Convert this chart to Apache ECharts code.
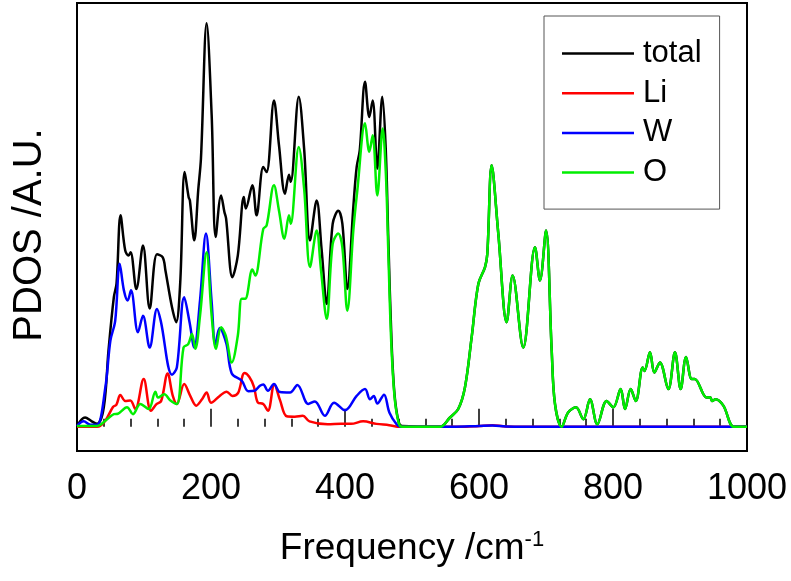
<!DOCTYPE html>
<html>
<head>
<meta charset="utf-8">
<script src="https://cdn.jsdelivr.net/npm/echarts@6/dist/echarts.min.js"></script>
<style>
  html, body { margin: 0; padding: 0; background: #fff; }
  #chart { width: 791px; height: 581px; }
</style>
</head>
<body>
<div id="chart"></div>
<script>
// Phonon partial density of states, [frequency (cm-1), intensity (a.u.)]
const seriesNames = ['total', 'Li', 'W', 'O'];
const seriesColors = ['#000000', '#ff0000', '#0000ff', '#00ee00'];
const xTicks = [0, 200, 400, 600, 800, 1000];

const total = [
  [0, 0.2], [12, 2.2], [22, 1.3], [30, 0.7], [40, 4.6], [47, 18], [55, 30.6], [59, 33.8],
  [65, 49.9], [72, 41.6], [77, 40.4], [80, 41.2], [88.6, 32.5], [98.5, 42.8], [108.5, 27.9],
  [119.4, 40.7], [128, 40], [132, 36.9], [141.8, 28.2], [148, 24.7], [154, 33.8], [160.7, 60.1],
  [166.6, 54.2], [168.5, 53.4], [175, 44], [181, 56], [185, 63.3], [193.5, 95.2], [201, 73.5],
  [207, 44.8], [215, 54.6], [220, 50.7], [222.5, 49.2], [232, 35.3], [240, 40.4], [249, 54.2],
  [252, 51.5], [261.7, 57], [268, 49.9], [278, 61.3], [283, 60.1], [294, 77], [301.5, 66.4],
  [310.4, 55], [316.4, 59.5], [319, 57.8], [331, 77.9], [339, 65.6], [347.8, 44], [357.7, 53.4],
  [365, 42], [372.7, 29], [381.6, 47.9], [390, 51], [396, 48], [403.5, 32.5], [412.4, 51.8],
  [417.4, 61.3], [422, 65.2], [429.9, 81.4], [436.3, 73.1], [441.3, 77], [448.2, 60.9],
  [455.7, 77.9], [460.7, 66], [464.7, 44], [469.5, 20], [474, 7.5], [480, 1.2], [485, 0.2],
  [541.8, 0], [556.7, 2.2], [569, 4.2], [579, 9.3], [589, 21.1], [599, 33.7], [609, 37.7],
  [612.4, 40.8], [618.9, 61.7], [628.8, 45.6], [641.3, 24.7], [650.2, 35.7], [666, 18.7],
  [683.6, 42.4], [691, 34.5], [700, 46.3], [708.5, 18], [713.4, 5.4], [723.4, 0], [733, 3.4],
  [744.8, 4.6], [755.7, 1.8], [765.7, 6.5], [776.6, 0.6], [790.5, 6.1], [800.5, 4.6],
  [811.4, 8.9], [818, 4.2], [826.4, 8.9], [834, 6.1], [844.3, 14], [847, 13.2], [855.2, 17.6],
  [861.7, 12.8], [870, 15.2], [882.6, 8.9], [892.5, 17.6], [901, 8.9], [909, 16.5],
  [917.4, 11.3], [921.9, 11.3], [939.8, 6.9], [945, 7], [948, 6.1], [953, 6.5], [964.7, 5],
  [980.6, 0], [1000, 0]
];

const li = [
  [0, 0], [30, 0], [42, 1.4], [53.7, 4.7], [58.7, 5.2], [64.7, 7.5], [72, 6.1], [79.6, 6.2],
  [87, 4.2], [99.5, 11.3], [110.4, 3.8], [119, 5.4], [125.6, 6.1], [135.3, 12.6], [143, 7.3],
  [149, 5.4], [160, 10.1], [169, 7.3], [178, 5], [186.6, 6.5], [193.5, 8.1], [200, 5.7],
  [213, 7.3], [223.4, 8.3], [232, 7.3], [240.5, 8], [250, 12.7], [257, 11.8], [264, 9.5],
  [270, 5.7], [278, 5.4], [285, 3.8], [294.5, 10], [303, 6.3], [313, 2.5], [325, 2.4],
  [337, 2.6], [347, 1.3], [374, 0.6], [394, 0.7], [409, 0.7], [427, 1.3], [447, 0.7],
  [466, 0.4], [482, 0], [580, 0], [600, 0.2], [620, 0.4], [640, 0.1], [700, 0], [1000, 0]
];

const w = [
  [0, 0.2], [10, 1.3], [20, 0.5], [30, 0.5], [42.3, 9.3], [49.8, 20.3], [57, 25], [63.7, 38.5],
  [70, 32.2], [75.6, 29.8], [80.6, 32.2], [91, 22.3], [98.5, 26.2], [108.5, 18.7], [119.4, 27.8],
  [125, 25], [141.8, 12.3], [149, 14], [160, 30.6], [168, 24.7], [175, 18.7], [183.6, 29.8],
  [192.5, 45.6], [201, 29.4], [206.5, 19.5], [213, 23.3], [223, 19.6], [231, 12.6],
  [245.8, 10.9], [255.7, 8.4], [265, 8.5], [273, 9.7], [278, 10], [285, 8.5], [294, 10.1],
  [303, 8.2], [318, 8.1], [328.9, 9.9], [345.3, 5.4], [355, 6], [370, 2.6], [383.6, 5.7],
  [400, 3.9], [417.4, 7.3], [429.9, 8.9], [437.3, 6.5], [443, 7.3], [448.2, 5.5], [458.2, 7.6],
  [466.2, 3.4], [477, 0.6], [483, 0], [560, 0], [600, 0.2], [620, 0.3], [640, 0.1], [700, 0],
  [1000, 0]
];

const o = [
  [0, 0.2], [30, 0.2], [45, 1.8], [55, 3], [61, 3.1], [74.6, 4.6], [83.6, 3], [94.5, 5.4],
  [107, 4.2], [117, 8.3], [121, 6.9], [130.3, 7.7], [139, 6.3], [149, 5.4], [159, 18.7],
  [166, 19.5], [171.6, 21.9], [176.6, 18.4], [183.6, 26.2], [193.5, 41.2], [201, 26.2],
  [207.5, 18.4], [215, 23.5], [222, 21.5], [231, 15.2], [240, 21.5], [245.8, 30.2], [251, 30.2],
  [261.7, 37.1], [266, 35.7], [278, 46.7], [283, 47.5], [294, 57], [301.5, 51], [309.5, 44.4],
  [316.4, 49.9], [319, 47.9], [331, 66], [339, 56.2], [347.8, 37.7], [357.7, 46.3], [364, 37.3],
  [372.7, 25.5], [381.6, 43.2], [390, 45.6], [396, 42.4], [403.5, 27.4], [412.4, 46.3],
  [418.4, 55.8], [429.9, 71.6], [436.3, 64.9], [441.3, 68.8], [448.2, 54.6], [456.2, 70.4],
  [461, 59.7], [464.5, 42], [469, 20], [474, 7], [480, 1], [485, 0],
  [541.8, 0], [556.7, 2.2], [569, 4.2], [579, 9.3], [589, 21.1], [599, 33.7], [609, 37.7],
  [612.4, 40.8], [618.9, 61.7], [628.8, 45.6], [641.3, 24.7], [650.2, 35.7], [666, 18.7],
  [683.6, 42.4], [691, 34.5], [700, 46.3], [708.5, 18], [713.4, 5.4], [723.4, 0], [733, 3.4],
  [744.8, 4.6], [755.7, 1.8], [765.7, 6.5], [776.6, 0.6], [790.5, 6.1], [800.5, 4.6],
  [811.4, 8.9], [818, 4.2], [826.4, 8.9], [834, 6.1], [844.3, 14], [847, 13.2], [855.2, 17.6],
  [861.7, 12.8], [870, 15.2], [882.6, 8.9], [892.5, 17.6], [901, 8.9], [909, 16.5],
  [917.4, 11.3], [921.9, 11.3], [939.8, 6.9], [945, 7], [948, 6.1], [953, 6.5], [964.7, 5],
  [980.6, 0], [1000, 0]
];

const seriesData = [total, li, w, o];
const FONT = '"Liberation Sans", Arial, sans-serif';

const chart = echarts.init(document.getElementById('chart'), null, { renderer: 'canvas' });

chart.setOption({
  animation: false,
  backgroundColor: '#ffffff',
  textStyle: { fontFamily: FONT },
  grid: {
    left: 77, right: 44, top: 3, bottom: 130,
    show: true, borderColor: '#000', borderWidth: 2, backgroundColor: 'transparent'
  },
  legend: {
    orient: 'vertical',
    left: 544, top: 16,
    padding: [22, 18, 21, 18],
    backgroundColor: '#fff',
    borderColor: '#555', borderWidth: 1,
    icon: 'rect',
    itemWidth: 72, itemHeight: 2.5,
    itemGap: 8.7,
    data: seriesNames,
    textStyle: { fontSize: 31, color: '#000', fontFamily: FONT, lineHeight: 31, padding: [0, 0, 0, 4] }
  },
  xAxis: {
    type: 'value',
    min: xTicks[0], max: xTicks[xTicks.length - 1], interval: xTicks[1] - xTicks[0],
    name: 'Frequency /cm{s|-1}',
    nameLocation: 'middle',
    nameGap: 78,
    nameTextStyle: {
      fontSize: 37, color: '#000', fontFamily: FONT,
      rich: { s: { fontSize: 22, color: '#000', fontFamily: FONT, padding: [0, 0, 18, 0] } }
    },
    axisLine: { show: false },
    axisTick: { show: true, inside: true, length: 18, lineStyle: { color: '#000', width: 1.5 } },
    minorTick: { show: true, splitNumber: 5, length: 8, lineStyle: { color: '#000', width: 1.5 } },
    axisLabel: {
      fontSize: 36, color: '#000', margin: 20, fontFamily: FONT,
      formatter: (v) => String(v)
    },
    splitLine: { show: false }
  },
  yAxis: {
    type: 'value',
    min: -5.7, max: 100,
    name: 'PDOS /A.U.',
    nameLocation: 'middle',
    nameGap: 27,
    nameTextStyle: { fontSize: 40, color: '#000', fontFamily: FONT, padding: [0, 16, 0, 0] },
    axisLine: { show: false },
    axisTick: { show: false },
    axisLabel: { show: false },
    splitLine: { show: false }
  },
  series: seriesNames.map((name, i) => ({
    name: name,
    type: 'line',
    data: seriesData[i],
    smooth: 0.35,
    symbol: 'none',
    color: seriesColors[i],
    lineStyle: { color: seriesColors[i], width: 2.5 },
    z: 2 + i
  }))
});
</script>
</body>
</html>
